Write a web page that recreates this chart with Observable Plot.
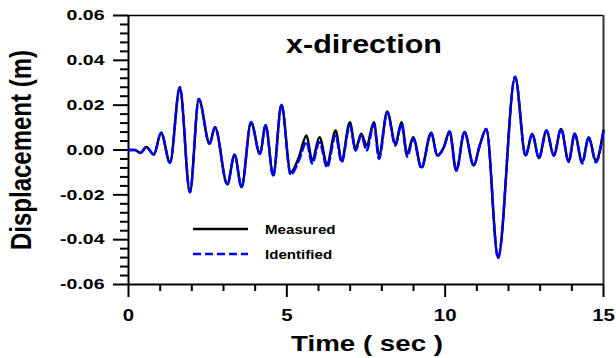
<!DOCTYPE html>
<html>
<head>
<meta charset="utf-8">
<script src="https://cdn.jsdelivr.net/npm/d3@7"></script>
<script src="https://cdn.jsdelivr.net/npm/@observablehq/plot@0.6"></script>
<style>
  html, body { margin: 0; padding: 0; background: white; }
  #chart { width: 616px; height: 358px; }
</style>
</head>
<body>
<div id="chart"></div>
<script>
// ---- data ----
const times = [0, 0.2, 0.38, 0.56, 0.80, 1.03, 1.31, 1.62, 1.94, 2.22, 2.56, 2.73, 3.12, 3.35, 3.57,
  3.87, 4.15, 4.33, 4.57, 4.83, 5.12, 5.38, 5.62, 5.80, 6.03, 6.27, 6.54, 6.73, 6.99, 7.17,
  7.35, 7.52, 7.75, 7.91, 8.17, 8.43, 8.62, 8.80, 8.99, 9.25, 9.56, 9.75, 9.96, 10.14, 10.35,
  10.61, 10.90, 11.09, 11.30, 11.67, 12.21, 12.54, 12.75, 12.96, 13.20, 13.43, 13.66, 13.90, 14.09, 14.33,
  14.53, 14.76, 15.0];
const measured = [0, 0, -0.0013, 0.0013, -0.002, 0.0077, -0.0057, 0.028, -0.0188, 0.0228,
  0.0028, 0.0102, -0.0153, -0.0021, -0.0166, 0.0124, -0.0017, 0.011, -0.0114, 0.0202,
  -0.0099, -0.0032, 0.0065, -0.0047, 0.0057, -0.0062, 0.0087, -0.0047, 0.0124, 0.0005,
  0.0072, 0.002, 0.0124, -0.0025, 0.0172, 0.0028, 0.0124, -0.0017, 0.0057, -0.0077,
  0.0077, -0.0025, 0.0013, 0.0083, -0.0092, 0.008, -0.0069, 0.002, 0.0094, -0.0481,
  0.0325, -0.0025, 0.0072, -0.0036, 0.0087, -0.0025, 0.0094, -0.0051, 0.0072, -0.0054,
  0.0057, -0.0047, 0.0087];
const identified = [0, 0, -0.0013, 0.0013, -0.002, 0.0077, -0.0057, 0.028, -0.0188, 0.0228,
  0.0028, 0.0102, -0.0153, -0.0021, -0.0166, 0.0124, -0.0017, 0.011, -0.0116, 0.0202,
  -0.011, -0.0047, 0.0035, -0.006, 0.0035, -0.0077, 0.0065, -0.0055, 0.011, -0.0002,
  0.0065, -0.0002, 0.0115, -0.004, 0.0168, 0.002, 0.0115, -0.003, 0.005, -0.0082,
  0.0077, -0.0025, 0.0013, 0.0083, -0.0092, 0.008, -0.0069, 0.002, 0.0094, -0.0481,
  0.0328, -0.0025, 0.0072, -0.0036, 0.0087, -0.0025, 0.0094, -0.0053, 0.0072, -0.006,
  0.0057, -0.0055, 0.0087];
const seriesNames = ["Measured", "Identified"];
const seriesColors = ["#000000", "#0000ff"];
const xTicks = [0, 5, 10, 15];
const xMinorTicks = [1, 2, 3, 4, 6, 7, 8, 9, 11, 12, 13, 14];
const yTicks = [-0.06, -0.04, -0.02, 0, 0.02, 0.04, 0.06];
const yMinorTicks = [-0.056, -0.052, -0.048, -0.044, -0.036, -0.032, -0.028, -0.024,
  -0.016, -0.012, -0.008, -0.004, 0.004, 0.008, 0.012, 0.016,
  0.024, 0.028, 0.032, 0.036, 0.044, 0.048, 0.052, 0.056];
const titleText = "x-direction";
const xLabel = "Time ( sec )";
const yLabel = "Displacement (m)";

const rowsM = times.map((t, i) => ({t, v: measured[i]}));
const rowsI = times.map((t, i) => ({t, v: identified[i]}));

const FONT = "'Liberation Sans', Arial, Helvetica, sans-serif";

const chart = Plot.plot({
  width: 616,
  height: 358,
  marginTop: 15,
  marginRight: 13,
  marginBottom: 74,
  marginLeft: 128,
  style: {fontFamily: FONT, background: "white", color: "black", overflow: "visible"},
  x: {domain: [0, 15], axis: null},
  y: {domain: [-0.06, 0.06], axis: null},
  marks: [
    // frame
    Plot.ruleY([0.06], {stroke: "black", strokeWidth: 1.5}),
    Plot.ruleX([15], {stroke: "#333", strokeWidth: 2}),
    // minor ticks
    Plot.axisY({ticks: yMinorTicks, anchor: "left", tickSize: 8, tickFormat: () => "", strokeWidth: 2, label: null}),
    Plot.axisX({ticks: xMinorTicks, anchor: "bottom", tickSize: 7, tickFormat: () => "", strokeWidth: 2, label: null}),
    // major ticks
    Plot.axisY({ticks: yTicks, anchor: "left", tickSize: 15, tickPadding: 9, tickFormat: d => d.toFixed(2),
      fontSize: 15, fontWeight: "bold", strokeWidth: 2, label: null}),
    Plot.axisX({ticks: xTicks, anchor: "bottom", tickSize: 13, tickPadding: 11, tickFormat: d => String(d),
      fontSize: 17, fontWeight: "bold", strokeWidth: 2, label: null}),
    // axis lines
    Plot.ruleX([0], {stroke: "black", strokeWidth: 2}),
    Plot.ruleY([-0.06], {stroke: "black", strokeWidth: 2}),
    // series
    Plot.line(rowsM, {x: "t", y: "v", curve: "monotone-x", stroke: seriesColors[0], strokeWidth: 2.5}),
    Plot.line(rowsI, {x: "t", y: "v", curve: "monotone-x", stroke: seriesColors[1], strokeWidth: 2.5, strokeDasharray: "8,4"}),
    // title & labels
    Plot.text([titleText], {frameAnchor: "top", text: d => d, textAnchor: "middle", dx: -2, dy: 29, fontSize: 25, fontWeight: "bold", lineAnchor: "middle"}),
    Plot.text([xLabel], {frameAnchor: "bottom", text: d => d, textAnchor: "middle", dx: 1, dy: 59, fontSize: 22, fontWeight: "bold", lineAnchor: "middle"}),
    Plot.text([yLabel], {frameAnchor: "left", text: d => d, textAnchor: "middle", dx: -107, dy: 0, rotate: -90, fontSize: 24, fontWeight: "bold", lineAnchor: "middle"})
  ]
});

document.getElementById("chart").appendChild(chart);
const svg = chart.tagName.toLowerCase() === "svg" ? chart : chart.querySelector("svg");

// horizontal stretch of the reference's lettering
const sxBySize = {15: 1.3, 17: 1.2, 22: 1.26, 24: 1.25, 25: 1.22};
svg.querySelectorAll("text").forEach(t => {
  let el = t, fs = null;
  while (el && el.getAttribute) {
    const a = el.getAttribute("font-size");
    if (a) { fs = parseFloat(a); break; }
    el = el.parentNode;
  }
  const s = sxBySize[fs];
  if (!s) return;
  const tr = t.getAttribute("transform") || "";
  if (/translate\([^)]*\)/.test(tr)) {
    t.setAttribute("transform", tr.replace(/(translate\([^)]*\))/, `$1 scale(${s},1)`));
  } else {
    const x = parseFloat(t.getAttribute("x")) || 0, y = parseFloat(t.getAttribute("y")) || 0;
    t.removeAttribute("x"); t.removeAttribute("y");
    t.setAttribute("transform", `translate(${x},${y}) scale(${s},1) ${tr}`);
  }
});

// legend
const lg = d3.select(svg).append("g").attr("font-family", FONT).attr("text-anchor", "start");
const legendRows = [229, 254];
seriesNames.forEach((name, i) => {
  lg.append("line").attr("x1", 193).attr("x2", 248).attr("y1", legendRows[i]).attr("y2", legendRows[i])
    .attr("stroke", seriesColors[i]).attr("stroke-width", 2.5)
    .attr("stroke-dasharray", i === 1 ? "8,4" : null);
  lg.append("text").attr("transform", `translate(265,${legendRows[i]}) scale(1.12,1)`)
    .attr("text-anchor", "start")
    .attr("dy", "0.35em").attr("font-size", 13.5).attr("font-weight", "bold").text(name);
});
</script>
</body>
</html>
